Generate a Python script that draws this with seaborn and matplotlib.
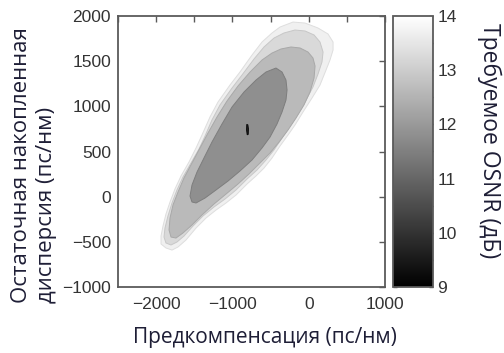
import numpy as np
import matplotlib
matplotlib.use("Agg")
import matplotlib.pyplot as plt
import seaborn as sns

# ---- data (contour outlines, data units) ----
osnr_levels = [13.7, 13.25, 12.65, 11.8, 9.6]   # OSNR value of each filled region

b1_x = [-206, -48, 122, 253, 319, 319, 279, 227, 148, 43, -75, -180, -271, -376, -481, -586, -691,
        -809, -953, -1084, -1215, -1346, -1477, -1609, -1713, -1792, -1871, -1936, -1936, -1910,
        -1871, -1818, -1753, -1674, -1569, -1477, -1399, -1294, -1189, -1032, -901, -743, -612,
        -481, -376]
b1_y = [1933, 1922, 1867, 1801, 1712, 1623, 1513, 1402, 1236, 1092, 937, 793, 683, 561, 428, 317,
        229, 140, 18, -70, -148, -236, -347, -480, -557, -591, -568, -524, -436, -325, -192, -59,
        85, 229, 384, 539, 683, 882, 1048, 1236, 1380, 1568, 1712, 1812, 1878]

b2_x = [-180, -48, 70, 148, 188, 174, 122, 56, -35, -140, -245, -350, -455, -560, -678, -809, -953,
        -1097, -1241, -1386, -1517, -1635, -1727, -1805, -1871, -1897, -1884, -1845, -1792, -1727,
        -1648, -1543, -1438, -1359, -1268, -1163, -1005, -874, -717, -586, -455, -324]
b2_y = [1845, 1834, 1790, 1712, 1601, 1491, 1358, 1214, 1070, 915, 782, 649, 517, 406, 295, 195, 74,
        -26, -114, -214, -325, -436, -502, -535, -513, -447, -347, -214, -70, 74, 218, 373, 528,
        671, 849, 1015, 1203, 1347, 1524, 1657, 1756, 1812]

b3_x = [-232, -114, -9, 56, 83, 70, 17, -62, -166, -271, -389, -507, -638, -783, -927, -1084, -1241,
        -1399, -1530, -1648, -1740, -1805, -1831, -1818, -1779, -1713, -1635, -1530, -1425, -1320,
        -1202, -1071, -927, -769, -612, -481, -363]
b3_y = [1657, 1646, 1601, 1535, 1446, 1314, 1159, 1015, 871, 738, 605, 483, 373, 251, 140, 29, -81,
        -203, -314, -402, -458, -447, -369, -236, -92, 52, 207, 373, 539, 705, 882, 1059, 1225,
        1380, 1513, 1590, 1635]

b4_x = [-429, -350, -298, -284, -298, -350, -416, -507, -612, -743, -901, -1058, -1215, -1359, -1477,
        -1530, -1556, -1530, -1464, -1373, -1268, -1137, -1005, -848, -691, -560]
b4_y = [1424, 1380, 1291, 1181, 1070, 937, 804, 660, 539, 406, 284, 173, 74, -15, -70, -59, 7, 129,
        273, 428, 605, 804, 993, 1159, 1291, 1380]

b5_x = [-812, -798, -790, -793, -806, -815]
b5_y = [800, 795, 750, 690, 685, 740]

outlines = [(b1_x, b1_y), (b2_x, b2_y), (b3_x, b3_y), (b4_x, b4_y), (b5_x, b5_y)]

x_ticks = [-2000, -1000, 0, 1000]
y_ticks = [-1000, -500, 0, 500, 1000, 1500, 2000]
cbar_ticks = [9, 10, 11, 12, 13, 14]

xlabel = "Предкомпенсация (пс/нм)"
ylabel = "Остаточная накопленная\nдисперсия (пс/нм)"
cbar_label = "Требуемое OSNR (дБ)"

# ---- style ----
sns.set_theme(style="white")
plt.rcParams["font.family"] = ["Liberation Sans", "DejaVu Sans"]
plt.rcParams["xtick.direction"] = "in"
plt.rcParams["ytick.direction"] = "in"

tick_col = "#333333"
lab_col = "#1e1e36"
spine_col = "#5a5a5a"

fig = plt.figure(figsize=(5.04, 3.53), dpi=100)
ax = fig.add_axes([118 / 504, 66 / 353, 267 / 504, 271 / 353])
cax = fig.add_axes([393 / 504, 66 / 353, 40 / 504, 271 / 353])

cmap = plt.get_cmap("gray")
norm = matplotlib.colors.Normalize(vmin=9, vmax=14)

for (xs, ys), lev in zip(outlines, osnr_levels):
    ax.fill(xs, ys, facecolor=cmap(norm(lev)), edgecolor=cmap(norm(lev - 0.35)),
            linewidth=0.7, zorder=2)

ax.set_xlim(-2500, 1000)
ax.set_ylim(-1000, 2000)
ax.set_xticks(x_ticks)
ax.set_xticks(np.arange(-2500, 1001, 500), minor=True)
ax.set_yticks(y_ticks)
ax.tick_params(which="both", direction="in", top=True, right=True, length=4, width=1,
               color=spine_col, labelsize=12.5, labelcolor=tick_col)
ax.tick_params(axis="x", pad=7)
ax.tick_params(axis="y", pad=5)
ax.grid(False)
for s in ax.spines.values():
    s.set_color(spine_col)
    s.set_linewidth(1.3)

sm = matplotlib.cm.ScalarMappable(norm=norm, cmap=cmap)
cb = fig.colorbar(sm, cax=cax)
cb.set_ticks(cbar_ticks)
cax.set_yticks(np.arange(9, 14.01, 0.5), minor=True)
cax.tick_params(which="both", direction="in", left=True, right=True, length=3, width=1,
                color=spine_col, labelsize=12.5, labelcolor=tick_col, pad=3)
cb.outline.set_edgecolor(spine_col)
cb.outline.set_linewidth(1.3)

lab_font = ["Open Sans", "DejaVu Sans"]
fig.text(265 / 504, 1 - 337 / 353, xlabel, ha="center", va="center", fontsize=15,
         color=lab_col, family=lab_font)
fig.text(34 / 504, 1 - 303 / 353, ylabel, ha="center", va="bottom", rotation=90,
         multialignment="left", fontsize=16, color=lab_col, family=lab_font, linespacing=1.2)
fig.text(489 / 504, 1 - 141 / 353, cbar_label, ha="center", va="center", rotation=270,
         fontsize=16.5, color=lab_col, family=lab_font)

fig.savefig("out.png", dpi=100)
